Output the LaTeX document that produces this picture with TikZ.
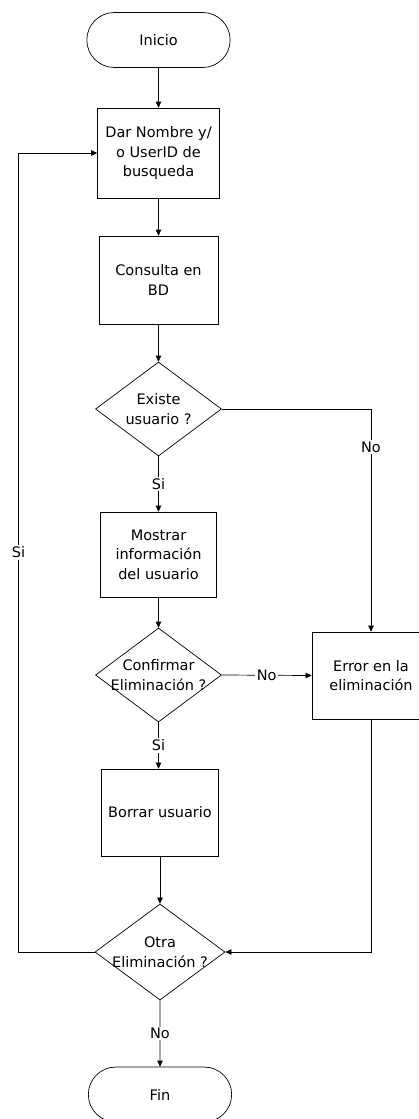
\documentclass[tikz,border=0pt]{standalone}
\usepackage{fontspec}
\setmainfont{DejaVu Sans}
\usetikzlibrary{shapes.geometric, shapes.misc, arrows.meta}
\tikzstyle{terminal} = [rounded rectangle, draw, minimum width=150pt, minimum height=55pt]
\tikzstyle{proceso} = [rectangle, draw, align=center, inner sep=0pt]
\tikzstyle{decision} = [diamond, draw, inner sep=0pt]
\tikzstyle{texto} = [align=center, inner sep=0pt]
\tikzstyle{etiqueta} = [fill=white, inner sep=1.5pt]
\tikzstyle{arrow} = [->, >={Triangle[length=6pt,width=5.5pt]}]

\begin{document}
\begin{tikzpicture}[x=1pt, y=-1pt, line width=0.7pt, every node/.style={font=\fontsize{14.5}{19.5}\selectfont}]
        \useasboundingbox (0,0) rectangle (419,1119);
        % Node positions
        \node[terminal] (inicio) at (158.5,40) {Inicio};
        \node[proceso, minimum width=122pt, minimum height=90pt] (nombre) at (158.5,153) {Dar Nombre y/\\o UserID de\\busqueda};
        \node[proceso, minimum width=119pt, minimum height=88pt] (consulta) at (158.5,280) {Consulta en\\BD};
        \node[decision, minimum width=126pt, minimum height=94pt] (existe) at (158.5,409) {};
        \node[texto] (existe-t) at (existe) {Existe\\usuario ?};
        \node[proceso, minimum width=116pt, minimum height=85pt] (mostrar) at (158.5,554.5) {Mostrar\\información\\del usuario};
        \node[decision, minimum width=126pt, minimum height=94pt] (confirmar) at (158.5,675) {};
        \node[texto] (confirmar-t) at (confirmar) {Confirmar\\Eliminación ?};
        \node[proceso, minimum width=118pt, minimum height=87pt] (error) at (371,675.5) {Error en la\\eliminación};
        \node[proceso, minimum width=117pt, minimum height=87pt] (borrar) at (160,812.5) {Borrar usuario};
        \node[decision, minimum width=130pt, minimum height=96pt] (otra) at (160,952) {};
        \node[texto] (otra-t) at (otra) {Otra\\Eliminación ?};
        \node[terminal] (fin) at (160,1094.5) {Fin};
        \coordinate (vuelta) at (18.5,952);

        \draw[arrow] (inicio) -- (nombre);
        \draw[arrow] (nombre) -- (consulta);
        \draw[arrow] (consulta) -- (existe);
        \draw[arrow] (existe.east) -| node[etiqueta, pos=0.585] (no1) {No} (error.north);
        \draw[arrow] (existe) -- node[etiqueta] (si1) {Si} (mostrar);
        \draw[arrow] (mostrar) -- (confirmar);
        \draw[arrow] (confirmar.east) -- node[etiqueta] (no2) {No} (error.west);
        \draw[arrow] (confirmar.south) -- node[etiqueta] (si2) {Si} (confirmar.south |- borrar.north);
        \draw[arrow] (borrar) -- (otra);
        \draw[arrow] (error.south) |- (otra.east);
        \draw[arrow] (otra.west) -- (vuelta) |- node[etiqueta, pos=0.25] (si3) {Si} (nombre.west);
        \draw[arrow] (otra) -- node[etiqueta] (no3) {No} (fin);

      \end{tikzpicture}
\end{document}
